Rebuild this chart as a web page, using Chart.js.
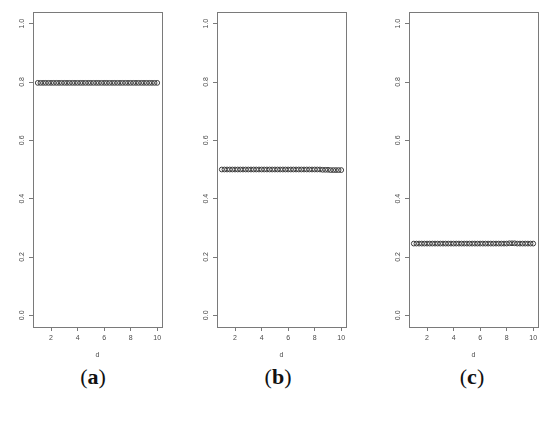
<!DOCTYPE html>
<html>
<head>
<meta charset="utf-8">
<script src="https://cdn.jsdelivr.net/npm/chart.js@4.4.1/dist/chart.umd.min.js"></script>
<style>
  body { margin: 0; background: #fff; width: 550px; height: 427px; overflow: hidden; position: relative; }
  .panel { position: absolute; top: 0; width: 174px; height: 360px; }
  .lab { position: absolute; top: 364px; width: 60px; text-align: center; font-family: "Liberation Serif", "DejaVu Serif", serif; font-size: 22px; color: #111; }
  .lab b { font-weight: bold; }
</style>
</head>
<body>
<div class="panel" id="pa"><canvas id="ca"></canvas></div>
<div class="panel" id="pb"><canvas id="cb"></canvas></div>
<div class="panel" id="pc"><canvas id="cc"></canvas></div>
<div class="lab" style="left:63px">(<b>a</b>)</div>
<div class="lab" style="left:248px">(<b>b</b>)</div>
<div class="lab" style="left:442px">(<b>c</b>)</div>

<script>
// values
const dValues = [1, 1.2, 1.4, 1.6, 1.8, 2, 2.2, 2.4, 2.6, 2.8, 3, 3.2, 3.4, 3.6, 3.8, 4, 4.2, 4.4, 4.6, 4.8,
  5, 5.2, 5.4, 5.6, 5.8, 6, 6.2, 6.4, 6.6, 6.8, 7, 7.2, 7.4, 7.6, 7.8, 8, 8.2, 8.4, 8.6, 8.8,
  9, 9.2, 9.4, 9.6, 9.8, 10];
const seriesA = [0.797, 0.797, 0.797, 0.797, 0.797, 0.797, 0.797, 0.797, 0.797, 0.797,
  0.797, 0.797, 0.797, 0.797, 0.797, 0.797, 0.797, 0.797, 0.797, 0.797,
  0.797, 0.797, 0.797, 0.797, 0.797, 0.797, 0.797, 0.797, 0.797, 0.797,
  0.797, 0.797, 0.797, 0.797, 0.797, 0.797, 0.797, 0.797, 0.797, 0.797,
  0.797, 0.797, 0.797, 0.797, 0.797, 0.797];
const seriesB = [0.5, 0.5, 0.5, 0.5, 0.5, 0.5, 0.5, 0.5, 0.5, 0.5,
  0.5, 0.5, 0.5, 0.5, 0.5, 0.5, 0.5, 0.5, 0.5, 0.5,
  0.5, 0.5, 0.5, 0.5, 0.5, 0.5, 0.5, 0.5, 0.5, 0.5,
  0.5, 0.5, 0.5, 0.5, 0.5, 0.5, 0.5, 0.5, 0.499, 0.499,
  0.499, 0.498, 0.498, 0.498, 0.498, 0.498];
const seriesC = [0.246, 0.246, 0.246, 0.246, 0.246, 0.246, 0.246, 0.246, 0.246, 0.246,
  0.246, 0.246, 0.246, 0.246, 0.246, 0.246, 0.246, 0.246, 0.246, 0.246,
  0.246, 0.246, 0.246, 0.246, 0.246, 0.246, 0.246, 0.246, 0.246, 0.246,
  0.246, 0.246, 0.246, 0.246, 0.246, 0.246, 0.247, 0.247, 0.247, 0.246,
  0.246, 0.246, 0.246, 0.246, 0.246, 0.246];
const xTicks = [2, 4, 6, 8, 10];
const yTicks = [0, 0.2, 0.4, 0.6, 0.8, 1.0];
const yTickLabels = ['0.0', '0.2', '0.4', '0.6', '0.8', '1.0'];
const xRange = [0.64, 10.36];
const yRange = [-0.04, 1.04];
const xTitle = 'd';

const boxLefts = { pa: 33, pb: 217, pc: 409 };
const axisCol = '#7a7a7a';
const textCol = '#4a4a4a';

// R style box + rotated y labels
const rBox = {
  id: 'rBox',
  afterDraw(chart) {
    const { ctx, chartArea: a, scales } = chart;
    ctx.save();
    ctx.strokeStyle = axisCol;
    ctx.lineWidth = 1;
    ctx.strokeRect(Math.round(a.left) + 0.5, Math.round(a.top) + 0.5,
      Math.round(a.right - a.left), Math.round(a.bottom - a.top));
    ctx.fillStyle = textCol;
    ctx.font = '7px "Liberation Sans", Arial, sans-serif';
    ctx.textAlign = 'center';
    ctx.textBaseline = 'middle';
    yTicks.forEach((v, i) => {
      const y = scales.y.getPixelForValue(v);
      ctx.save();
      ctx.translate(a.left - 11, y);
      ctx.rotate(-Math.PI / 2);
      ctx.fillText(yTickLabels[i], 0, 0);
      ctx.restore();
    });
    ctx.restore();
  }
};

function makePanel(id, canvasId, values) {
  const holder = document.getElementById(id);
  holder.style.left = (boxLefts[id] - 33) + 'px';
  new Chart(document.getElementById(canvasId), {
    type: 'scatter',
    data: {
      datasets: [{
        data: dValues.map((d, i) => ({ x: d, y: values[i] })),
        showLine: false,
        pointRadius: 2.4,
        pointBorderWidth: 1,
        pointBorderColor: '#3c3c3c',
        pointBackgroundColor: 'rgba(0,0,0,0)',
      }]
    },
    options: {
      responsive: true,
      maintainAspectRatio: false,
      animation: false,
      devicePixelRatio: 1,
      layout: { padding: { top: 12, right: 12, left: 0, bottom: 0 } },
      plugins: { legend: { display: false }, tooltip: { enabled: false } },
      scales: {
        x: {
          type: 'linear',
          min: xRange[0], max: xRange[1],
          afterBuildTicks: s => { s.ticks = xTicks.map(v => ({ value: v })); },
          afterFit: s => { s.height = 33; },
          border: { display: false },
          grid: { drawOnChartArea: false, drawTicks: true, tickLength: 4, color: axisCol },
          ticks: { color: textCol, font: { size: 7, family: '"Liberation Sans", Arial, sans-serif' },
            padding: 3, maxRotation: 0, autoSkip: false, callback: v => String(v) },
          title: { display: true, text: xTitle, color: textCol,
            font: { size: 7, family: '"Liberation Sans", Arial, sans-serif' }, padding: { top: 0, bottom: 1 } }
        },
        y: {
          type: 'linear',
          min: yRange[0], max: yRange[1],
          afterBuildTicks: s => { s.ticks = yTicks.map(v => ({ value: v })); },
          afterFit: s => { s.width = 33; },
          border: { display: false },
          grid: { drawOnChartArea: false, drawTicks: true, tickLength: 4, color: axisCol },
          ticks: { display: false }
        }
      }
    },
    plugins: [rBox]
  });
}

makePanel('pa', 'ca', seriesA);
makePanel('pb', 'cb', seriesB);
makePanel('pc', 'cc', seriesC);
</script>
</body>
</html>
